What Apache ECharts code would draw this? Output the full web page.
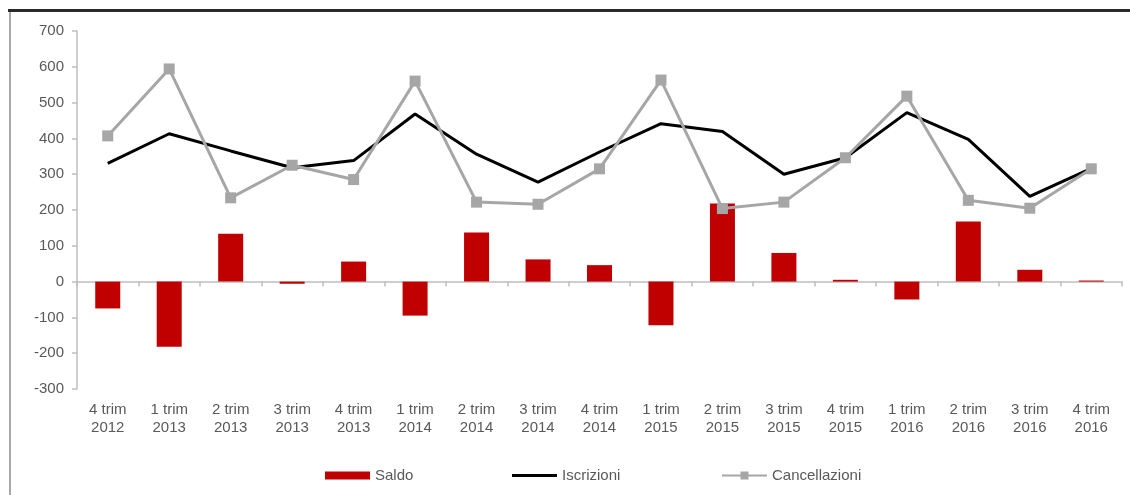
<html>
<head>
<meta charset="utf-8"/>
<title>Saldo iscrizioni cancellazioni</title>
<script src="https://cdn.jsdelivr.net/npm/echarts@6/dist/echarts.min.js"></script>
<style>
  body { margin: 0; padding: 0; background: #fff; }
  #chart { width: 1130px; height: 495px; }
</style>
</head>
<body>
<div id="chart"></div>
<script type="text/javascript">
// trimestri
let categories = [
  '4 trim\n2012', '1 trim\n2013', '2 trim\n2013', '3 trim\n2013', '4 trim\n2013',
  '1 trim\n2014', '2 trim\n2014', '3 trim\n2014', '4 trim\n2014',
  '1 trim\n2015', '2 trim\n2015', '3 trim\n2015', '4 trim\n2015',
  '1 trim\n2016', '2 trim\n2016', '3 trim\n2016', '4 trim\n2016'
];
let saldo = [-75, -182, 134, -6, 56, -95, 137, 62, 46, -122, 218, 80, 5, -50, 168, 33, 3];
let iscrizioni = [330, 413, 365, 318, 338, 468, 356, 278, 362, 441, 419, 300, 346, 472, 397, 238, 316];
let cancellazioni = [407, 594, 234, 325, 285, 560, 222, 216, 315, 563, 204, 222, 346, 518, 227, 205, 315];

let yTicks = { min: -300, max: 700, interval: 100 };

let textColor = '#595959';
let axisColor = '#bfbfbf';
let font = 'Liberation Sans, Arial, sans-serif';

let chart = echarts.init(document.getElementById('chart'));

chart.setOption({
  animation: false,
  backgroundColor: '#fff',
  graphic: [
    { type: 'rect', shape: { x: 8, y: 9, width: 1122, height: 3 }, style: { fill: '#2a2a2a' } },
    { type: 'rect', shape: { x: 9, y: 12, width: 2, height: 483 }, style: { fill: '#a8a8a8' } }
  ],
  grid: { left: 77, right: 8, top: 31, bottom: 106 },
  legend: [
    {
      data: ['Saldo'], left: 320, top: 463, icon: 'rect', itemWidth: 45, itemHeight: 8,
      textStyle: { color: textColor, fontSize: 15, fontFamily: font }
    },
    {
      data: [{ name: 'Iscrizioni', icon: 'rect' }], left: 507, top: 463, itemWidth: 45, itemHeight: 3,
      textStyle: { color: textColor, fontSize: 15, fontFamily: font }
    },
    {
      data: ['Cancellazioni'], left: 716, top: 463, itemWidth: 45, itemHeight: 10,
      textStyle: { color: textColor, fontSize: 15, fontFamily: font }
    }
  ],
  xAxis: [
    {
      type: 'category',
      data: categories,
      position: 'bottom',
      axisLine: { show: false, onZero: false },
      axisTick: { show: false },
      axisLabel: {
        color: textColor, fontSize: 15, fontFamily: font,
        lineHeight: 18, margin: 12, interval: 0
      },
      splitLine: { show: false }
    },
    {
      type: 'category',
      data: categories,
      position: 'bottom',
      axisLine: { show: true, onZero: true, lineStyle: { color: axisColor, width: 1.5 } },
      axisTick: { show: true, length: 5, lineStyle: { color: axisColor, width: 1.5 } },
      axisLabel: { show: false },
      splitLine: { show: false }
    }
  ],
  yAxis: {
    type: 'value',
    min: yTicks.min,
    max: yTicks.max,
    interval: yTicks.interval,
    axisLine: { show: true, lineStyle: { color: axisColor, width: 1.5 } },
    axisTick: { show: true, length: 5, lineStyle: { color: axisColor, width: 1.5 } },
    axisLabel: { color: textColor, fontSize: 15, fontFamily: font, margin: 13 },
    splitLine: { show: false }
  },
  series: [
    {
      name: 'Saldo',
      type: 'bar',
      xAxisIndex: 0,
      data: saldo,
      barWidth: 25,
      itemStyle: { color: '#c00000' }
    },
    {
      name: 'Iscrizioni',
      type: 'line',
      xAxisIndex: 0,
      data: iscrizioni,
      symbol: 'none',
      lineStyle: { color: '#000', width: 3 },
      itemStyle: { color: '#000' }
    },
    {
      name: 'Cancellazioni',
      type: 'line',
      xAxisIndex: 0,
      data: cancellazioni,
      symbol: 'rect',
      symbolSize: 11,
      lineStyle: { color: '#a6a6a6', width: 3 },
      itemStyle: { color: '#a6a6a6' }
    }
  ]
});
</script>
</body>
</html>
